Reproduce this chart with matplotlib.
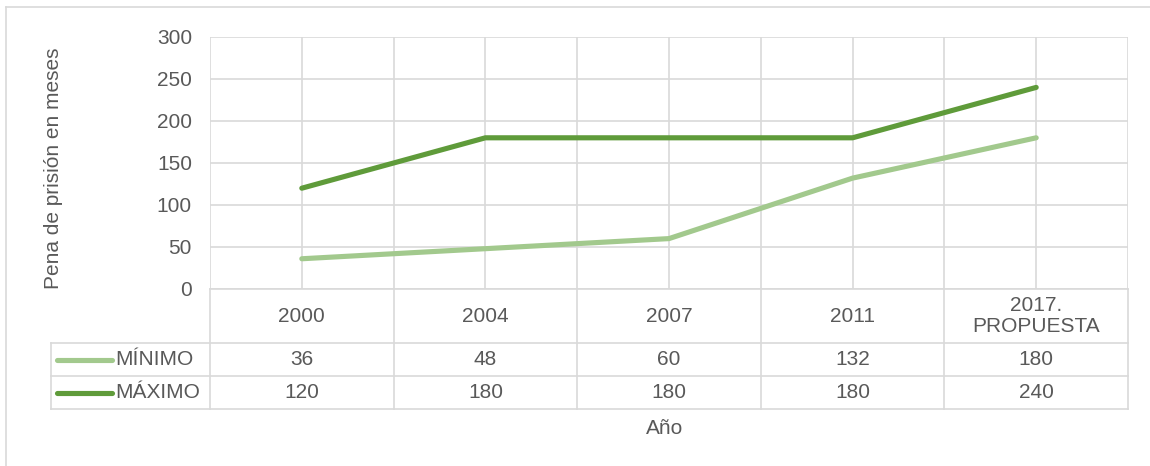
import matplotlib.pyplot as plt
from matplotlib.lines import Line2D

# Data
years = ["2000", "2004", "2007", "2011", "2017.\nPROPUESTA"]
minimo = [36, 48, 60, 132, 180]
maximo = [120, 180, 180, 180, 240]
series_names = ["MÍNIMO", "MÁXIMO"]

plt.rcParams["font.family"] = ["Liberation Sans", "DejaVu Sans"]
txt = "#595959"
grid = "#d9d9d9"
c_min = "#a2c98d"
c_max = "#5f9b3a"
fs = 15

W, H = 1150, 466
fig = plt.figure(figsize=(W / 100, H / 100), dpi=100)

def px(x0, y0, x1, y1):
    # pixel box (top-left origin) -> figure fraction rect
    return [x0 / W, 1 - y1 / H, (x1 - x0) / W, (y1 - y0) / H]

# outer chart border
fig.add_artist(Line2D([6 / W, 1], [1 - 7 / H, 1 - 7 / H], color=grid, lw=1.2))
fig.add_artist(Line2D([6 / W, 6 / W], [0, 1 - 7 / H], color=grid, lw=1.2))

n = len(years)
xs = [i + 0.5 for i in range(n)]

ax = fig.add_axes(px(210, 37, 1128, 289))
ax.plot(xs, minimo, color=c_min, lw=3.7, solid_capstyle="round")
ax.plot(xs, maximo, color=c_max, lw=3.7, solid_capstyle="round")
ax.set_xlim(0, n)
ax.set_ylim(0, 300)
ax.set_yticks(range(0, 301, 50))
ax.set_xticks([i * 0.5 for i in range(2 * n + 1)])
ax.set_xticklabels([])
ax.tick_params(length=0, labelsize=fs, labelcolor=txt, pad=13)
ax.grid(True, color=grid, lw=1.2)
ax.set_axisbelow(True)
for s in ax.spines.values():
    s.set_visible(False)
ax.set_ylabel("Pena de prisión en meses", fontsize=fs, color=txt)
ax.yaxis.set_label_coords((63 - 210) / 918, (289 - 168) / 252)

# data table below the plot
lab_w = (210 - 51) / ((1128 - 210) / n)
tb = fig.add_axes(px(51, 289, 1128, 409))
tb.set_xlim(-lab_w, n)
tb.set_ylim(0, 120)
tb.axis("off")
rows = [(120, 66), (66, 33), (33, 0)]
lk = dict(color=grid, lw=1.2, clip_on=False)
# horizontal lines
tb.plot([0, n], [120, 120], **lk)
for y in (66, 33, 0):
    tb.plot([-lab_w, n], [y, y], **lk)
# vertical lines
for i in range(n + 1):
    tb.plot([i, i], [0, 120], **lk)
tb.plot([-lab_w, -lab_w], [0, 66], **lk)

for i, yr in enumerate(years):
    tb.text(i + 0.5, 93, yr, ha="center", va="center", fontsize=fs, color=txt,
            linespacing=1.15)
for r, (name, vals, col) in enumerate(zip(series_names, [minimo, maximo], [c_min, c_max])):
    top, bot = rows[r + 1]
    yc = (top + bot) / 2
    for i, v in enumerate(vals):
        tb.text(i + 0.5, yc, str(v), ha="center", va="center", fontsize=fs, color=txt)
    kx0 = -lab_w + (57 - 51) / 183.6
    kx1 = -lab_w + (112 - 51) / 183.6
    tb.plot([kx0, kx1], [yc, yc], color=col, lw=3.7, solid_capstyle="round", clip_on=False)
    tb.text(-lab_w + (115 - 51) / 183.6, yc, name, ha="left", va="center",
            fontsize=fs, color=txt)

fig.text(665 / W, 1 - 428 / H, "Año", ha="center", va="center", fontsize=fs, color=txt)

fig.savefig("out.png", dpi=100)
